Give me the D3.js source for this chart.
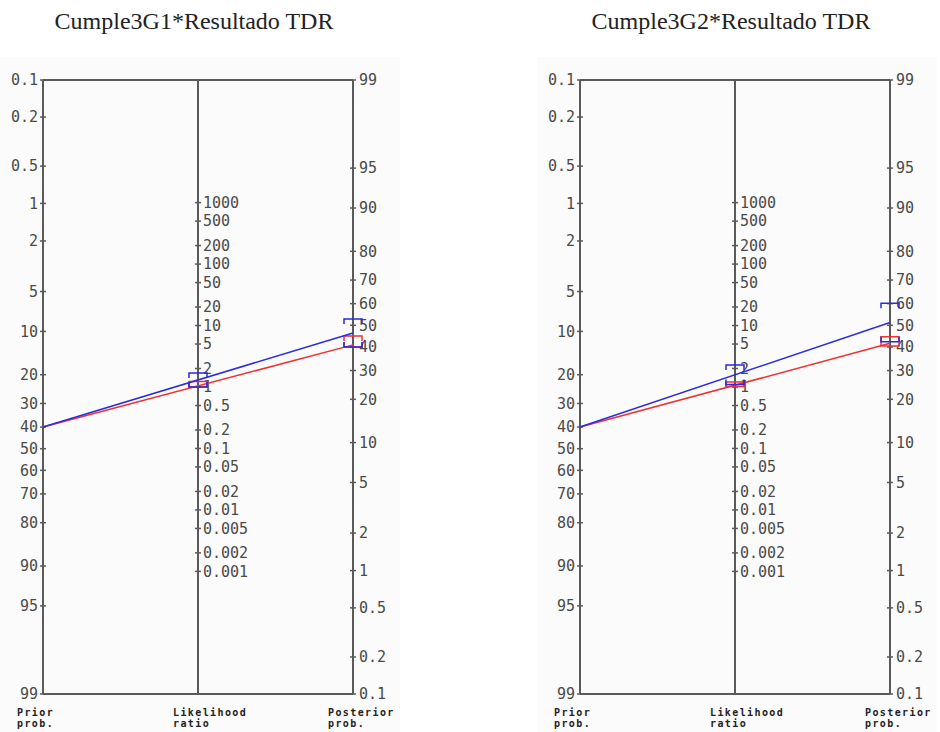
<!DOCTYPE html>
<html>
<head>
<meta charset="utf-8">
<script src="https://cdn.jsdelivr.net/npm/d3@7"></script>
<style>
  body { margin: 0; background: #fff; }
  svg { display: block; }
</style>
</head>
<body>
<div id="chart"></div>
<script>
// Fagan nomograms, one per test
const panelTitles = ["Cumple3G1*Resultado TDR", "Cumple3G2*Resultado TDR"];
const priorProb = [0.40, 0.40];

// likelihood ratio point estimates and CI
const blueLR = [1.30, 1.58];
const blueLo = [1.00, 1.10];
const blueHi = [1.69, 2.27];
const redLR = [1.04, 1.07];
const redLo = [1.00, 1.02];
const redHi = [1.23, 1.21];

// tick labels (percent for the prob axes)
const priorTicks = [0.1, 0.2, 0.5, 1, 2, 5, 10, 20, 30, 40, 50, 60, 70, 80, 90, 95, 99];
const lrTicks = [1000, 500, 200, 100, 50, 20, 10, 5, 2, 1, 0.5, 0.2, 0.1, 0.05, 0.02, 0.01, 0.005, 0.002, 0.001];
const postTicks = [99, 95, 90, 80, 70, 60, 50, 40, 30, 20, 10, 5, 2, 1, 0.5, 0.2, 0.1];

const width = 940;
const height = 732;
const yTop = 80, yBottom = 694;
const panelOffset = [0, 537];

const logit = p => Math.log(p / (1 - p));

const svg = d3.select("#chart")
    .append("svg")
    .attr("width", width)
    .attr("height", height);

// prior axis: 0.1% at top, 99% at bottom; posterior is the other way round
const yPrior = d3.scaleLinear()
    .domain([logit(0.001), logit(0.99)])
    .range([yTop, yBottom]);
const yPost = d3.scaleLinear()
    .domain([logit(0.99), logit(0.001)])
    .range([yTop, yBottom]);

// the LR axis sits midway, so its scale follows from the other two
const k = (yBottom - yTop) / (logit(0.99) - logit(0.001));
const lrCenter = (yPrior(0) + yPost(0)) / 2;
const lrHalf = 3 * Math.LN10 * k / 2;
const yLR = d3.scaleLog()
    .domain([0.001, 1000])
    .range([lrCenter + lrHalf, lrCenter - lrHalf]);

const x = d3.scalePoint()
    .domain(["prior", "lr", "post"])
    .range([43, 353]);

const axisColor = "#5a5a5a";
const labelColor = "#4a4a4a";
const monoFont = "DejaVu Sans Mono";

panelTitles.forEach((title, i) => {
    const g = svg.append("g").attr("transform", `translate(${panelOffset[i]},0)`);

    g.append("rect")
        .attr("x", 0).attr("y", 57)
        .attr("width", 400).attr("height", height - 57)
        .attr("fill", "#fbfbfb");

    g.append("text")
        .attr("x", 194)
        .attr("y", 29)
        .attr("text-anchor", "middle")
        .style("font-family", "Liberation Serif")
        .style("font-size", "24px")
        .attr("fill", "#222")
        .text(title);

    // frame: three verticals + top and bottom lines
    ["prior", "lr", "post"].forEach(key => {
        g.append("line")
            .attr("x1", x(key)).attr("x2", x(key))
            .attr("y1", yTop).attr("y2", yBottom)
            .attr("stroke", axisColor).attr("stroke-width", 2);
    });
    [yTop, yBottom].forEach(yy => {
        g.append("line")
            .attr("x1", x("prior")).attr("x2", x("post"))
            .attr("y1", yy).attr("y2", yy)
            .attr("stroke", axisColor).attr("stroke-width", 2);
    });

    // prior ticks
    const pt = g.selectAll(".ptick").data(priorTicks).enter().append("g")
        .attr("transform", d => `translate(${x("prior")},${yPrior(logit(d / 100))})`);
    pt.append("line").attr("x1", -3).attr("x2", 3)
        .attr("stroke", axisColor).attr("stroke-width", 1.5);
    pt.append("text")
        .attr("x", -5).attr("dy", "0.35em")
        .attr("text-anchor", "end")
        .style("font-family", monoFont).style("font-size", "15px")
        .attr("fill", labelColor)
        .text(d => d);

    // LR ticks
    const lt = g.selectAll(".ltick").data(lrTicks).enter().append("g")
        .attr("transform", d => `translate(${x("lr")},${yLR(d)})`);
    lt.append("line").attr("x1", -3).attr("x2", 3)
        .attr("stroke", axisColor).attr("stroke-width", 1.5);
    lt.append("text")
        .attr("x", 5).attr("dy", "0.35em")
        .style("font-family", monoFont).style("font-size", "15px")
        .attr("fill", labelColor)
        .text(d => d);

    // posterior ticks
    const qt = g.selectAll(".qtick").data(postTicks).enter().append("g")
        .attr("transform", d => `translate(${x("post")},${yPost(logit(d / 100))})`);
    qt.append("line").attr("x1", -3).attr("x2", 3)
        .attr("stroke", axisColor).attr("stroke-width", 1.5);
    qt.append("text")
        .attr("x", 6).attr("dy", "0.35em")
        .style("font-family", monoFont).style("font-size", "15px")
        .attr("fill", labelColor)
        .text(d => d);

    // axis names under the frame
    const names = [["Prior", "prob."], ["Likelihood", "ratio"], ["Posterior", "prob."]];
    const nameX = [17, 173, 328];
    names.forEach((lines, j) => {
        lines.forEach((s, r) => {
            g.append("text")
                .attr("x", nameX[j])
                .attr("y", 716 + r * 11)
                .style("font-family", monoFont)
                .style("font-size", "10px")
                .style("font-weight", "bold")
                .style("letter-spacing", "1.4px")
                .attr("fill", "#222")
                .text(s);
        });
    });

    // lines + CI caps
    const series = [
        { lr: redLR[i], lo: redLo[i], hi: redHi[i], color: "#f03030" },
        { lr: blueLR[i], lo: blueLo[i], hi: blueHi[i], color: "#2a2ae0" }
    ];
    const priorL = logit(priorProb[i]);
    const capW = 9, capT = 5;
    series.forEach(s => {
        const y0 = yPrior(priorL);
        const y1 = yPost(priorL + Math.log(s.lr));
        g.append("line")
            .attr("x1", x("prior")).attr("y1", y0)
            .attr("x2", x("post")).attr("y2", y1)
            .attr("stroke", s.color).attr("stroke-width", 1.5);

        const caps = [
            { cx: x("lr"), yHi: yLR(s.hi), yLo: yLR(s.lo) },
            { cx: x("post"), yHi: yPost(priorL + Math.log(s.hi)), yLo: yPost(priorL + Math.log(s.lo)) }
        ];
        caps.forEach(c => {
            g.append("path")
                .attr("d", `M${c.cx - capW},${c.yHi + capT}V${c.yHi}H${c.cx + capW}V${c.yHi + capT}`)
                .attr("fill", "none").attr("stroke", s.color).attr("stroke-width", 1.5);
            g.append("path")
                .attr("d", `M${c.cx - capW},${c.yLo - capT}V${c.yLo}H${c.cx + capW}V${c.yLo - capT}`)
                .attr("fill", "none").attr("stroke", s.color).attr("stroke-width", 1.5);
        });
    });
});
</script>
</body>
</html>
